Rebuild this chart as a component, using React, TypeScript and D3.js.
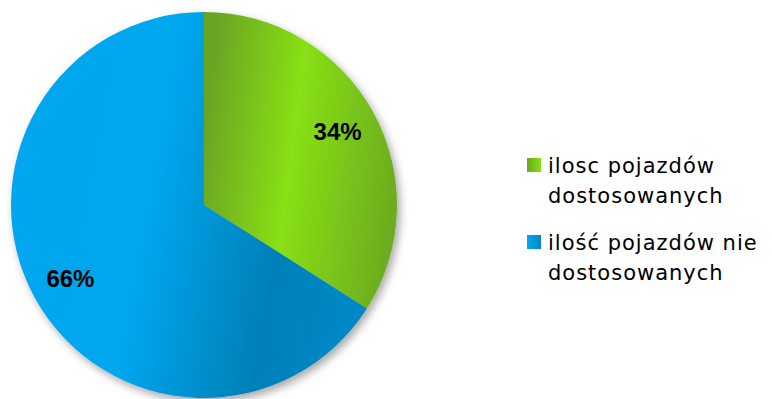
import React from "react";
import * as d3 from "d3";

const categories = ["ilosc pojazdów dostosowanych", "ilość pojazdów nie dostosowanych"];
const values = [34, 66];
const legendLines = [
  ["ilosc pojazdów", "dostosowanych"],
  ["ilość pojazdów nie", "dostosowanych"],
];

const W = 772;
const H = 399;
const cx = 204;
const cy = 205;
const R = 193;

export default function App() {
  const pie = d3.pie<number>().sort(null).value((d) => d);
  const arcs = pie(values);
  const arc = d3.arc<d3.PieArcDatum<number>>().innerRadius(0).outerRadius(R);
  const labelArc = d3.arc<d3.PieArcDatum<number>>().innerRadius(R * 0.79).outerRadius(R * 0.79);
  const fills = ["url(#gGreen)", "url(#gBlue)"];
  const legendFills = ["url(#lGreen)", "url(#lBlue)"];

  return (
    <svg width={W} height={H} style={{ position: "absolute", left: 0, top: 0 }}>
      <defs>
        <linearGradient id="gGreen" x1="0" y1="0.4" x2="1" y2="0.6">
          <stop offset="0" stopColor="#6aa523" />
          <stop offset="0.45" stopColor="#88e015" />
          <stop offset="1" stopColor="#6cab20" />
        </linearGradient>
        <linearGradient id="gBlue" x1="0" y1="0.4" x2="1" y2="0.6">
          <stop offset="0" stopColor="#00a6ee" />
          <stop offset="0.38" stopColor="#00a8f0" />
          <stop offset="0.76" stopColor="#0080b8" />
          <stop offset="1" stopColor="#0088c6" />
        </linearGradient>
        <linearGradient id="lGreen" x1="0" y1="0" x2="1" y2="0">
          <stop offset="0" stopColor="#6aa523" />
          <stop offset="1" stopColor="#88e015" />
        </linearGradient>
        <linearGradient id="lBlue" x1="0" y1="0" x2="1" y2="0">
          <stop offset="0" stopColor="#00a8f0" />
          <stop offset="1" stopColor="#0088c6" />
        </linearGradient>
        <filter id="shadow" x="-20%" y="-20%" width="140%" height="140%">
          <feDropShadow dx="3" dy="4" stdDeviation="4" floodColor="#000" floodOpacity="0.35" />
        </filter>
      </defs>
      <rect width={W} height={H} fill="#ffffff" />
      <g transform={`translate(${cx},${cy})`} filter="url(#shadow)">
        {arcs.map((a, i) => (
          <path key={categories[i]} d={arc(a) || ""} fill={fills[i]} />
        ))}
      </g>
      <g transform={`translate(${cx},${cy})`}>
        {arcs.map((a, i) => {
          const [x, y] = labelArc.centroid(a);
          return (
            <text
              key={"l" + i}
              x={x}
              y={y}
              dy="0.36em"
              textAnchor="middle"
              fontFamily="Liberation Sans, Arial, sans-serif"
              fontWeight="bold"
              fontSize={24}
              fill="#000"
            >
              {values[i]}%
            </text>
          );
        })}
      </g>
      {legendLines.map((lines, i) => {
        const y0 = 173 + i * 77;
        return (
          <g key={"lg" + i}>
            <rect x={527} y={y0 - 15} width={14} height={14} fill={legendFills[i]} />
            {lines.map((t, j) => (
              <text
                key={j}
                x={548}
                y={y0 + j * 30}
                fontFamily="DejaVu Sans, Verdana, sans-serif"
                fontSize={21}
                letterSpacing={1}
                fill="#000"
              >
                {t}
              </text>
            ))}
          </g>
        );
      })}
    </svg>
  );
}
